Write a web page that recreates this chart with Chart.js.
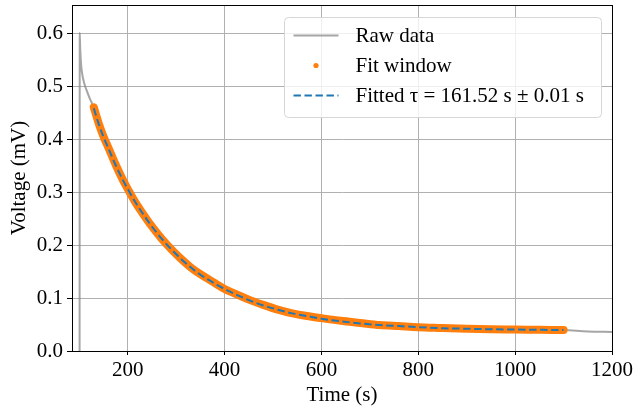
<!DOCTYPE html>
<html>
<head>
<meta charset="utf-8">
<script src="https://cdn.jsdelivr.net/npm/chart.js@4.4.0/dist/chart.umd.min.js"></script>
<style>
  html, body { margin: 0; padding: 0; background: #fff; }
  #wrap { width: 634px; height: 408px; }
</style>
</head>
<body>
<div id="wrap"><canvas id="decay" width="634" height="408"></canvas></div>
<script>
// values
const rawTime = [100.7, 101, 102, 104, 107, 111, 116, 122, 130, 140, 150, 160, 175, 190, 200, 215, 230, 250, 270, 290,
  310, 330, 350, 375, 400, 425, 450, 480, 510, 540, 570, 600, 640, 680, 720, 760, 800, 850, 900, 950,
  1000, 1050, 1100, 1150, 1200];
const rawVolt = [0.0, 0.6, 0.57, 0.538, 0.518, 0.503, 0.49, 0.476, 0.46, 0.43, 0.405, 0.384, 0.352, 0.323, 0.306, 0.282, 0.261, 0.235, 0.212, 0.192,
  0.174, 0.158, 0.145, 0.131, 0.117, 0.107, 0.097, 0.087, 0.078, 0.071, 0.066, 0.062, 0.057, 0.053, 0.049, 0.047, 0.045, 0.0435, 0.042, 0.041,
  0.0405, 0.040, 0.0395, 0.037, 0.036];

const fitTime = [130, 140, 150, 160, 175, 190, 200, 215, 230, 250, 270, 290, 310, 330, 350, 375, 400, 425, 450, 480,
  510, 540, 570, 600, 640, 680, 720, 760, 800, 850, 900, 950, 1000, 1050, 1100];
const windowVolt = [0.46, 0.43, 0.405, 0.384, 0.352, 0.323, 0.306, 0.282, 0.261, 0.235, 0.212, 0.192, 0.174, 0.158, 0.145, 0.131, 0.117, 0.107, 0.097, 0.087,
  0.078, 0.071, 0.066, 0.062, 0.057, 0.053, 0.049, 0.047, 0.045, 0.0435, 0.042, 0.041, 0.0405, 0.040, 0.0395];
const fittedVolt = [0.458, 0.429, 0.404, 0.383, 0.351, 0.323, 0.306, 0.282, 0.261, 0.235, 0.212, 0.192, 0.174, 0.158, 0.144, 0.130, 0.117, 0.106, 0.096, 0.086,
  0.078, 0.071, 0.066, 0.061, 0.056, 0.052, 0.049, 0.047, 0.045, 0.043, 0.042, 0.041, 0.0405, 0.040, 0.0395];

const xTicks = [200, 400, 600, 800, 1000, 1200];
const yTicks = [0.0, 0.1, 0.2, 0.3, 0.4, 0.5, 0.6];
const seriesNames = ["Raw data", "Fit window", "Fitted \u03C4 = 161.52 s \u00B1 0.01 s"];

const FONT = "'Liberation Serif', 'Times New Roman', serif";
const GRAY = "rgba(128,128,128,0.7)";
const ORANGE = "#ff7f0e";
const BLUE = "#1f77b4";

const pts = (xs, ys) => xs.map((x, i) => ({ x: x, y: ys[i] }));

// black box around the plot area
const frame = {
  id: "frame",
  afterDraw(chart) {
    const { left, top, right, bottom } = chart.chartArea;
    const ctx = chart.ctx;
    ctx.save();
    ctx.strokeStyle = "#000";
    ctx.lineWidth = 1;
    ctx.strokeRect(Math.round(left) + 0.5, Math.round(top) + 0.5, Math.round(right - left), Math.round(bottom - top));
    ctx.restore();
  }
};

// matplotlib style legend inside the axes, top right
const boxLegend = {
  id: "boxLegend",
  afterDraw(chart) {
    const ctx = chart.ctx;
    const area = chart.chartArea;
    const w = 317, h = 100, r = 4;
    const x0 = area.right - 328 + 0.5, y0 = area.top + 12 + 0.5;
    ctx.save();
    ctx.beginPath();
    ctx.moveTo(x0 + r, y0);
    ctx.arcTo(x0 + w, y0, x0 + w, y0 + h, r);
    ctx.arcTo(x0 + w, y0 + h, x0, y0 + h, r);
    ctx.arcTo(x0, y0 + h, x0, y0, r);
    ctx.arcTo(x0, y0, x0 + w, y0, r);
    ctx.closePath();
    ctx.fillStyle = "rgba(255,255,255,0.8)";
    ctx.fill();
    ctx.strokeStyle = "#d6d6d6";
    ctx.lineWidth = 1;
    ctx.stroke();

    ctx.font = "21px " + FONT;
    ctx.fillStyle = "#000";
    ctx.textBaseline = "middle";
    seriesNames.forEach((name, i) => {
      const cy = y0 + 18 + 30 * i;
      const lx = x0 + 9, rx = x0 + 54;
      if (i === 0) {
        ctx.strokeStyle = GRAY;
        ctx.lineWidth = 2;
        ctx.setLineDash([]);
        ctx.beginPath(); ctx.moveTo(lx, cy); ctx.lineTo(rx, cy); ctx.stroke();
      } else if (i === 1) {
        ctx.fillStyle = ORANGE;
        ctx.beginPath(); ctx.arc((lx + rx) / 2, cy, 2.6, 0, Math.PI * 2); ctx.fill();
      } else {
        ctx.strokeStyle = BLUE;
        ctx.lineWidth = 2;
        ctx.setLineDash([7.4, 3.6]);
        ctx.beginPath(); ctx.moveTo(lx, cy); ctx.lineTo(rx, cy); ctx.stroke();
        ctx.setLineDash([]);
      }
      ctx.fillStyle = "#000";
      ctx.fillText(name, x0 + 71, cy + 1);
    });
    ctx.restore();
  }
};

new Chart(document.getElementById("decay").getContext("2d"), {
  type: "line",
  data: {
    datasets: [
      {
        label: seriesNames[0],
        data: pts(rawTime, rawVolt),
        borderColor: GRAY,
        borderWidth: 2,
        pointRadius: 0,
        cubicInterpolationMode: "monotone",
        order: 3
      },
      {
        label: seriesNames[1],
        data: pts(fitTime, windowVolt),
        borderColor: ORANGE,
        borderWidth: 8,
        borderCapStyle: "round",
        borderJoinStyle: "round",
        pointRadius: 0,
        cubicInterpolationMode: "monotone",
        order: 2
      },
      {
        label: seriesNames[2],
        data: pts(fitTime, fittedVolt),
        borderColor: BLUE,
        borderWidth: 2,
        borderDash: [7.4, 3.6],
        pointRadius: 0,
        cubicInterpolationMode: "monotone",
        order: 1
      }
    ]
  },
  options: {
    responsive: false,
    animation: false,
    devicePixelRatio: 1,
    layout: { padding: { top: 5, right: 22, left: 0, bottom: 0 } },
    plugins: {
      legend: { display: false },
      tooltip: { enabled: false }
    },
    scales: {
      x: {
        type: "linear",
        min: 85,
        max: 1200,
        afterBuildTicks: scale => { scale.ticks = xTicks.map(v => ({ value: v })); },
        afterFit: scale => { scale.height = 57; scale.paddingLeft = 0; scale.paddingRight = 0; },
        grid: { color: "#b0b0b0", lineWidth: 1, tickColor: "#000", tickLength: 4 },
        border: { color: "#000", width: 1 },
        ticks: { color: "#000", font: { family: FONT, size: 21 }, padding: 3, maxRotation: 0, callback: v => String(v) },
        title: { display: true, text: "Time (s)", color: "#000", font: { family: FONT, size: 21 }, padding: { top: 0, bottom: 0 } }
      },
      y: {
        type: "linear",
        min: 0,
        max: 0.653,
        afterBuildTicks: scale => { scale.ticks = yTicks.map(v => ({ value: v })); },
        afterFit: scale => { scale.width = 72; scale.paddingTop = 0; scale.paddingBottom = 0; },
        grid: { color: "#b0b0b0", lineWidth: 1, tickColor: "#000", tickLength: 5 },
        border: { color: "#000", width: 1 },
        ticks: { color: "#000", font: { family: FONT, size: 21 }, padding: 4, callback: v => v.toFixed(1) },
        title: { display: true, text: "Voltage (mV)", color: "#000", font: { family: FONT, size: 21 }, padding: { top: 7, bottom: 0 } }
      }
    }
  },
  plugins: [frame, boxLegend]
});
</script>
</body>
</html>
